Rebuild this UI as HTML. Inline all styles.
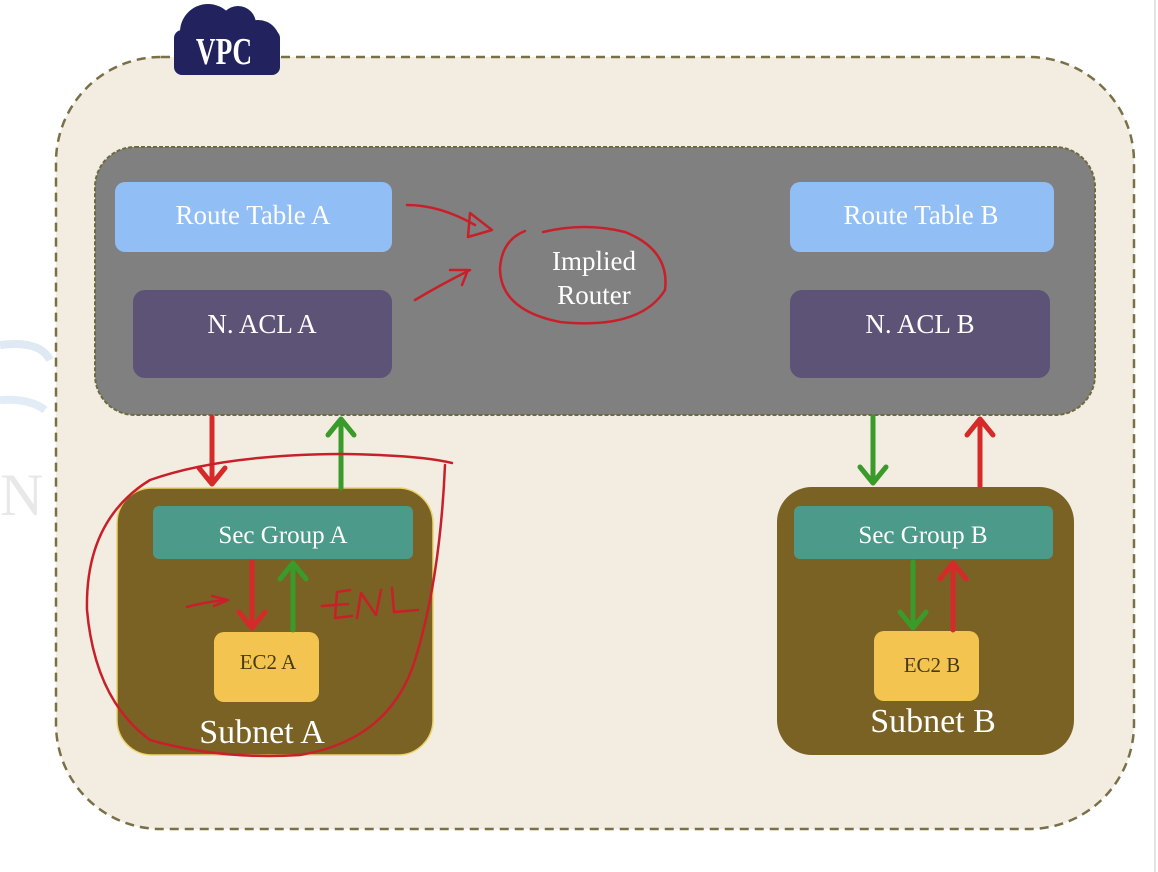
<!DOCTYPE html>
<html><head><meta charset="utf-8"><style>
html,body{margin:0;padding:0;background:#fff;}
svg{display:block;}
text{font-family:"Liberation Serif",serif;}
</style></head><body>
<svg width="1158" height="872" viewBox="0 0 1158 872" xmlns="http://www.w3.org/2000/svg">
<rect width="1158" height="872" fill="#fff"/>
<line x1="1155" y1="0" x2="1155" y2="872" stroke="#e4e4e4" stroke-width="2"/>
<path d="M0 345 Q40 340 50 360" stroke="#dfe9f3" stroke-width="8" fill="none"/>
<path d="M0 400 Q30 398 45 410" stroke="#e2ecf6" stroke-width="8" fill="none"/>
<text x="0" y="515" font-family="Liberation Sans" font-size="60" fill="#e8e8e8">N</text>
<rect x="56" y="57" width="1078" height="772" rx="105" fill="#f2ede0" stroke="#7a7048" stroke-width="2.5" stroke-dasharray="9,6"/>
<g fill="#22235e">
<rect x="174" y="30" width="106" height="45" rx="8"/>
<circle cx="208" cy="32" r="28"/>
<circle cx="238" cy="24" r="18"/>
<circle cx="258" cy="42" r="22"/>
</g>
<text x="224" y="64" font-family="Liberation Sans" font-weight="bold" font-size="38" fill="#fff" text-anchor="middle" transform="translate(224 0) scale(0.72 1) translate(-224 0)">VPC</text>
<rect x="95" y="147" width="1000" height="268" rx="40" fill="#808080" stroke="#6e6a3e" stroke-width="2" stroke-dasharray="4,2"/>
<rect x="115" y="182" width="277" height="70" rx="10" fill="#90bef5"/>
<text x="253" y="224" font-size="27" fill="#fff" text-anchor="middle">Route Table A</text>
<rect x="133" y="290" width="259" height="88" rx="12" fill="#5c5376"/>
<text x="262" y="333" font-size="27" fill="#fff" text-anchor="middle">N. ACL A</text>
<rect x="790" y="182" width="264" height="70" rx="10" fill="#90bef5"/>
<text x="921" y="224" font-size="27" fill="#fff" text-anchor="middle">Route Table B</text>
<rect x="790" y="290" width="260" height="88" rx="12" fill="#5c5376"/>
<text x="920" y="333" font-size="27" fill="#fff" text-anchor="middle">N. ACL B</text>
<text x="594" y="270" font-size="27" fill="#fff" text-anchor="middle">Implied</text>
<text x="594" y="304" font-size="27" fill="#fff" text-anchor="middle">Router</text>
<rect x="117" y="488" width="316" height="267" rx="35" fill="#7a6124" stroke="#e9d36a" stroke-width="1.5"/>
<rect x="153" y="506" width="260" height="53" rx="6" fill="#4c9a89"/>
<text x="283" y="543" font-size="25" fill="#fff" text-anchor="middle">Sec Group A</text>
<rect x="214" y="632" width="105" height="70" rx="10" fill="#f3c550"/>
<text x="268" y="669" font-size="21" fill="#4a3a10" text-anchor="middle">EC2 A</text>
<text x="262" y="743" font-size="34" fill="#fff" text-anchor="middle">Subnet A</text>
<rect x="777" y="487" width="297" height="268" rx="35" fill="#7a6124"/>
<rect x="794" y="506" width="259" height="53" rx="6" fill="#4c9a89"/>
<text x="923" y="543" font-size="25" fill="#fff" text-anchor="middle">Sec Group B</text>
<rect x="874" y="631" width="105" height="70" rx="10" fill="#f3c550"/>
<text x="932" y="672" font-size="21" fill="#4a3a10" text-anchor="middle">EC2 B</text>
<text x="933" y="732" font-size="34" fill="#fff" text-anchor="middle">Subnet B</text>
<g stroke-width="5" fill="none" stroke-linecap="round" stroke-linejoin="round">
<g stroke="#d52a2a"><path d="M212 417 V484 M199 468 L212 484 L225 468"/></g>
<g stroke="#3a9a2a"><path d="M341 488 V419 M328 435 L341 419 L354 435"/></g>
<g stroke="#d52a2a"><path d="M252 562 V628 M239 612 L252 628 L265 612"/></g>
<g stroke="#3a9a2a"><path d="M293 630 V563 M280 579 L293 563 L306 579"/></g>
<g stroke="#3a9a2a"><path d="M873 417 V483 M860 467 L873 483 L886 467"/></g>
<g stroke="#d52a2a"><path d="M980 486 V419 M967 435 L980 419 L993 435"/></g>
<g stroke="#3a9a2a"><path d="M913 562 V628 M900 612 L913 628 L926 612"/></g>
<g stroke="#d52a2a"><path d="M953 630 V563 M940 579 L953 563 L966 579"/></g>
</g>
<g stroke="#c8202a" stroke-width="2.5" fill="none" stroke-linecap="round" stroke-linejoin="round">
<path d="M525 231 Q502 240 500 268 Q500 310 560 322 Q640 330 665 290 Q670 250 625 232 Q585 222 543 232"/>
<path d="M407 205 Q440 205 475 225 M470 213 L492 230 L468 237 Z"/>
<path d="M415 300 Q440 285 470 270 M468 270 L450 270 M468 270 L462 285"/>
<path d="M452 463 Q420 455 340 454 Q220 455 150 480 Q85 520 87 610 Q95 700 150 740 Q220 760 300 755 Q390 740 415 660 Q440 580 445 465"/>
<path d="M187 607 Q205 602 225 600 M212 596 L228 600 L214 606"/>
<path d="M350 590 L337 592 L335 618 L352 616 M322 606 L348 604"/>
<path d="M357 618 L361 593 L376 615 L381 590"/>
<path d="M392 588 L394 612 L418 610"/>
</g>
</svg>
</body></html>
